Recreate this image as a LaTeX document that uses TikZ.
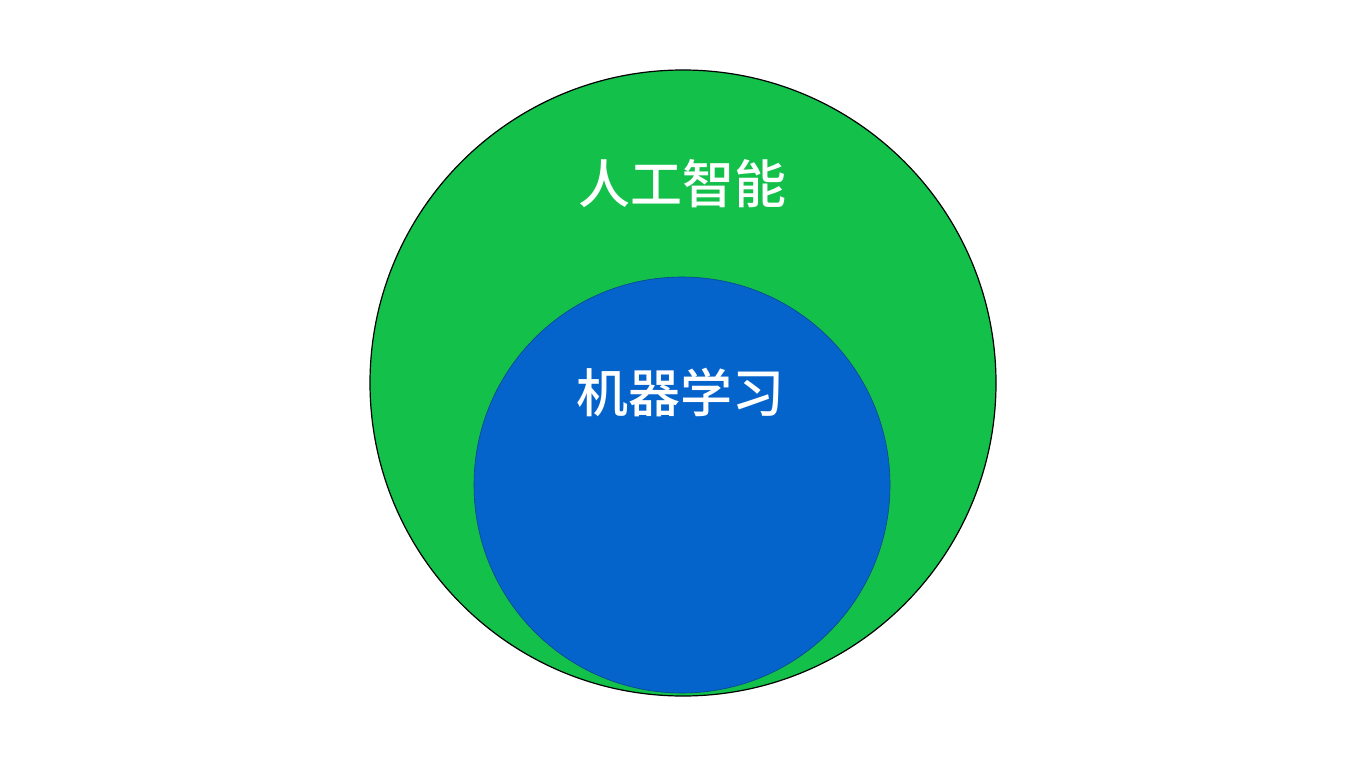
\documentclass[tikz,border=0pt]{standalone}
\usepackage{fontspec}
\newfontfamily\cjk[BoldFont={Noto Sans CJK SC Medium}]{Noto Sans CJK SC}
\definecolor{aigreen}{HTML}{12C04A}
\definecolor{mlblue}{HTML}{0563CC}
\begin{document}
\begin{tikzpicture}[x=1pt,y=-1pt,
  lbl/.style={text=white,font=\cjk\bfseries\fontsize{52}{60}\selectfont,inner sep=0pt}]
\useasboundingbox (0,0) rectangle (1365,768);
\fill[white] (0,0) rectangle (1365,768);
\draw[fill=aigreen,draw=black,line width=1.2pt] (683,383) circle[radius=313];
\draw[fill=mlblue,draw=mlblue!70!black,line width=0.6pt] (682,485) circle[radius=208];
\node[lbl] (ai) at (682,184) {人工智能};
\node[lbl] (ml) at (680,393) {机器学习};
\end{tikzpicture}
\end{document}
